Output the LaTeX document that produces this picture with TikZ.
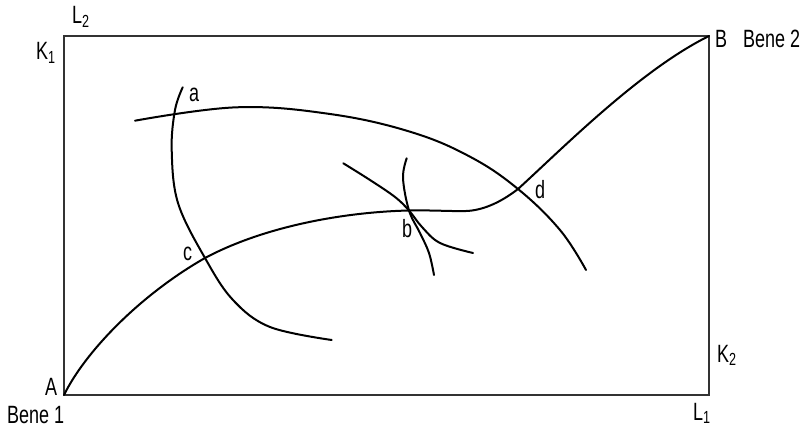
\documentclass[tikz,border=0pt]{standalone}
\usepackage{fontspec}
\setmainfont{Liberation Sans}[FakeStretch=0.72]
\begin{document}
\begin{tikzpicture}[x=1pt,y=-1pt,
  lab/.style={anchor=base west, inner sep=0pt, font=\fontsize{25}{30}\selectfont},
  curve/.style={line width=2pt, line cap=round, line join=round},
  frame/.style={line width=1.3pt, draw=black!80}]
\useasboundingbox (0,0) rectangle (804,428);
\coordinate (A) at (64,395);
\coordinate (B) at (709,36);
\coordinate (TL) at (64,36);
\coordinate (BR) at (709,395);
\coordinate (c) at (205,258);
\coordinate (b) at (409,210.5);
\coordinate (d) at (518,189);
\draw[frame] (TL) rectangle (BR);
% contract curve
\draw[curve] (A) .. controls (85,352) and (140,295) .. (c)
  .. controls (265,226) and (345,212) .. (b)
  .. controls (430,210) and (455,211.5) .. (466,211)
  .. controls (482,210.5) and (500,203) .. (d)
  .. controls (562,149) and (640,70) .. (B);
% curve a
\draw[curve] plot[smooth, tension=0.6] coordinates {(182.7,87.3) (175,110) (171.7,150) (178,203) (c) (233,300) (270,327) (331.7,340)};
% upper curve
\draw[curve] plot[smooth, tension=0.65] coordinates {(135,120.7) (236.7,107.3) (330,114) (410,131.7) (470,156.7) (d) (560,230) (586,270)};
% curves at b
\draw[curve] plot[smooth, tension=0.6] coordinates {(343.3,163.3) (370,180) (395,197) (b) (422,227) (440,243) (473,253)};
\draw[curve] plot[smooth, tension=0.6] coordinates {(406.7,158.3) (403,178) (b) (420,233) (429,253) (434,275)};
% labels
\node[lab] (l2) at (72,24) {L\textsubscript{2}};
\node[lab] (k1) at (36,60) {K\textsubscript{1}};
\node[lab] (lb) at (715,48) {B};
\node[lab] (b2) at (743,48) {Bene 2};
\node[lab] (la) at (45,395) {A};
\node[lab] (b1) at (7,423) {Bene 1};
\node[lab] (k2) at (717,362) {K\textsubscript{2}};
\node[lab] (l1) at (693,420) {L\textsubscript{1}};
\node[lab] (pa) at (189,102) {a};
\node[lab] (pc) at (183,260) {c};
\node[lab] (pb) at (402,237) {b};
\node[lab] (pd) at (535,198) {d};
\end{tikzpicture}
\end{document}
